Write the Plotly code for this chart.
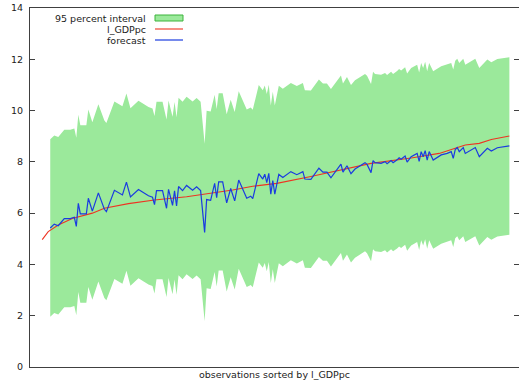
import plotly.graph_objects as go

# observations (sorted by l_GDPpc) where the forecast line changes direction
fc_obs = [5, 7, 9, 10, 12, 15, 17, 18, 19, 20, 23, 24, 26, 29, 32, 33, 37, 41, 43, 45,
          49, 54, 56, 57, 58, 61, 63, 64, 66, 67, 68, 69, 71, 73, 76, 78, 80, 82, 83, 85,
          87, 88, 89, 91, 93, 95, 97, 99, 101, 103, 105, 106, 109, 111, 112, 113, 114, 115, 116, 117,
          119, 121, 125, 128, 131, 132, 135, 139, 141, 143, 145, 147, 150, 151, 153, 155, 157, 162, 163, 165,
          166, 167, 170, 172, 173, 175, 176, 178, 179, 180, 182, 183, 185, 188, 189, 190, 191, 192, 193, 194,
          196, 200, 203, 205, 206, 207, 208, 209, 211, 212, 217, 219, 223, 225, 228, 234]
forecast = [5.42, 5.57, 5.51, 5.62, 5.79, 5.79, 5.84, 5.48, 6.38, 5.97, 5.97, 6.58, 6.08, 6.79, 6.15, 6.06, 6.89, 6.71, 7.21, 6.63,
            6.92, 6.68, 6.62, 6.33, 6.88, 6.88, 6.19, 6.93, 6.30, 6.87, 6.28, 7.04, 6.88, 7.08, 6.89, 7.03, 6.88, 5.25, 6.53, 6.50,
            7.16, 6.60, 7.22, 7.22, 6.40, 6.96, 6.48, 7.29, 6.96, 6.58, 6.66, 6.57, 7.54, 7.33, 7.52, 7.19, 7.55, 6.74, 7.27, 6.74,
            7.51, 7.39, 7.62, 7.50, 7.62, 7.33, 7.32, 7.75, 7.60, 7.60, 7.38, 7.58, 7.91, 7.60, 7.85, 7.54, 7.72, 7.97, 7.90, 7.58,
            8.05, 7.97, 7.94, 8.01, 7.93, 8.05, 7.97, 8.08, 8.16, 8.10, 8.23, 7.99, 8.20, 8.33, 8.02, 8.40, 8.20, 8.44, 8.07, 8.40,
            8.07, 8.27, 8.33, 8.40, 8.14, 8.48, 8.56, 8.40, 8.56, 8.33, 8.56, 8.20, 8.53, 8.42, 8.55, 8.62]

# actual l_GDPpc (sorted)
act_obs = [1, 4, 9, 16, 26, 32, 44, 57, 73, 85, 96, 106, 118, 135, 149, 165, 185, 199, 207, 212, 219, 225, 234]
l_GDPpc = [4.97, 5.28, 5.54, 5.79, 6.00, 6.19, 6.37, 6.51, 6.64, 6.77, 6.90, 7.05, 7.16, 7.43, 7.66, 7.94, 8.15, 8.33, 8.53, 8.66, 8.72, 8.87, 9.01]

# half-width of the 95 percent interval
half_width = 3.46

y_ticks = [0, 2, 4, 6, 8, 10, 12, 14]
x_label = "observations sorted by l_GDPpc"
legend_labels = ["95 percent interval", "l_GDPpc", "forecast"]

lower = [f - half_width for f in forecast]
upper = [f + half_width for f in forecast]

GREEN = "#9be99b"
RED = "#ee3322"
BLUE = "#1a3be0"
FONT = "DejaVu Sans"

fig = go.Figure()
fig.add_trace(go.Scatter(x=fc_obs, y=lower, mode="lines", line=dict(width=0, color=GREEN),
                         hoverinfo="skip", showlegend=False))
fig.add_trace(go.Scatter(x=fc_obs, y=upper, mode="lines", line=dict(width=0, color=GREEN),
                         fill="tonexty", fillcolor=GREEN, name=legend_labels[0], showlegend=False))
fig.add_trace(go.Scatter(x=act_obs, y=l_GDPpc, mode="lines", line=dict(width=1.1, color=RED),
                         name=legend_labels[1], showlegend=False))
fig.add_trace(go.Scatter(x=fc_obs, y=forecast, mode="lines", line=dict(width=1.2, color=BLUE),
                         name=legend_labels[2], showlegend=False))

L, R, T, B = 30, 0, 8, 22
W, H = 519, 389
pw, ph = W - L - R, H - T - B

def xp(px):
    return (px - L) / pw

def yp(py):
    return (H - B - py) / ph

# custom gnuplot-style legend: right-aligned text, sample on the right
rows = [18, 29, 40]
for lab, py in zip(legend_labels, rows):
    fig.add_annotation(x=xp(148), y=yp(py), xref="paper", yref="paper", text=lab,
                       showarrow=False, xanchor="right", yanchor="middle",
                       font=dict(family=FONT, size=9.5, color="#222222"))
fig.add_shape(type="rect", xref="paper", yref="paper", x0=xp(155), x1=xp(183),
              y0=yp(21), y1=yp(15), fillcolor=GREEN, line=dict(color="#3cb43c", width=1))
fig.add_shape(type="line", xref="paper", yref="paper", x0=xp(155), x1=xp(183),
              y0=yp(rows[1]), y1=yp(rows[1]), line=dict(color=RED, width=1.1))
fig.add_shape(type="line", xref="paper", yref="paper", x0=xp(155), x1=xp(183),
              y0=yp(rows[2]), y1=yp(rows[2]), line=dict(color=BLUE, width=1.2))

fig.update_layout(
    width=W, height=H,
    margin=dict(l=L, r=R, t=T, b=B, pad=0, autoexpand=False),
    paper_bgcolor="white", plot_bgcolor="white",
    font=dict(family=FONT, size=9.5, color="#222222"),
    showlegend=False,
)
fig.update_xaxes(range=[-5.1, 238.8], showgrid=False, zeroline=False, showticklabels=False,
                 ticks="", showline=True, linecolor="#404040", linewidth=1, mirror=True,
                 automargin=False,
                 title=dict(text=x_label, standoff=4, font=dict(family=FONT, size=9.5)))
fig.update_yaxes(range=[0, 14], tickvals=y_ticks, showgrid=False, zeroline=False,
                 ticks="inside", ticklen=5, tickcolor="#404040", showline=True,
                 linecolor="#404040", linewidth=1, mirror="ticks", automargin=False,
                 ticklabelstandoff=4)

fig.write_html("out.html", config={"displayModeBar": False},
               post_script="document.body.style.margin='0';document.body.style.overflow='hidden';")
